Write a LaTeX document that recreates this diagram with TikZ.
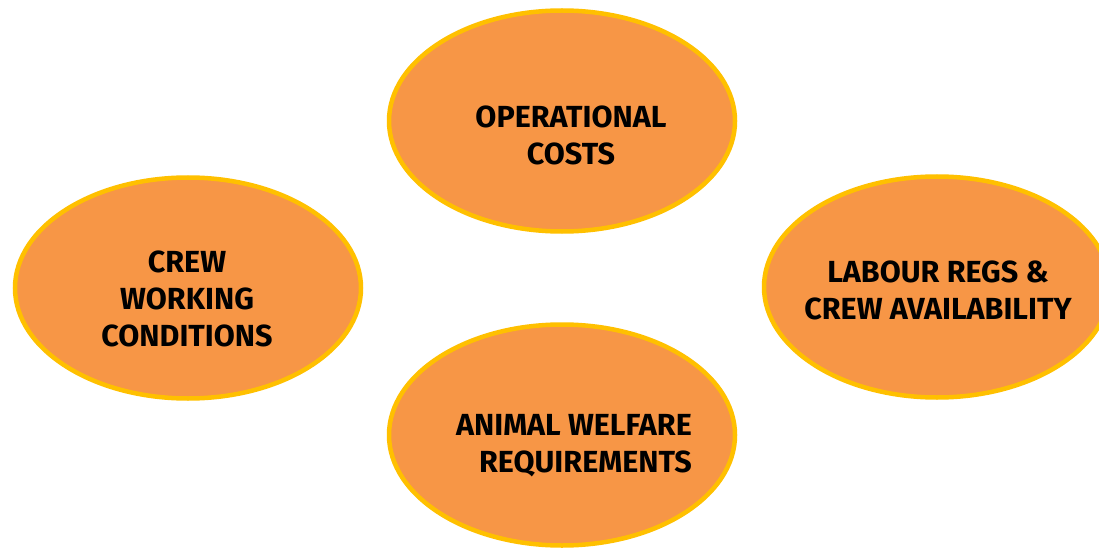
\documentclass[tikz,border=0pt]{standalone}
\usepackage{fontspec}
\setmainfont{Fira Sans}
\usetikzlibrary{shapes.geometric}

\definecolor{blobfill}{HTML}{F79646}
\definecolor{blobline}{HTML}{FFC000}

\tikzset{
	blob/.style={shape=ellipse,fill=blobfill,draw=blobline,line width=4.5pt,minimum width=346pt,minimum height=221pt},
	blobtext/.style={font=\fontsize{30.5}{37}\selectfont\bfseries,text=black,inner sep=0pt}
}

\begin{document}
\begin{tikzpicture}[x=1pt,y=-1pt]
					\useasboundingbox (0,0) rectangle (1099,548);
					\node (costs) [blob] at (562,121) {};
					\node (crew) [blob] at (188,288) {};
					\node (labour) [blob] at (937,287) {};
					\node (welfare) [blob] at (562,435) {};

					\node (costs text) [blobtext,align=center] at (571,135) {OPERATIONAL\\COSTS};
					\node (crew text) [blobtext,align=center] at (187,299) {CREW\\WORKING\\CONDITIONS};
					\node (labour text) [blobtext,align=center] at (938,290) {LABOUR REGS \&\\CREW AVAILABILITY};
					\node (welfare text) [blobtext,align=right,anchor=east] at (692,446) {ANIMAL WELFARE\\REQUIREMENTS};
				\end{tikzpicture}
\end{document}
